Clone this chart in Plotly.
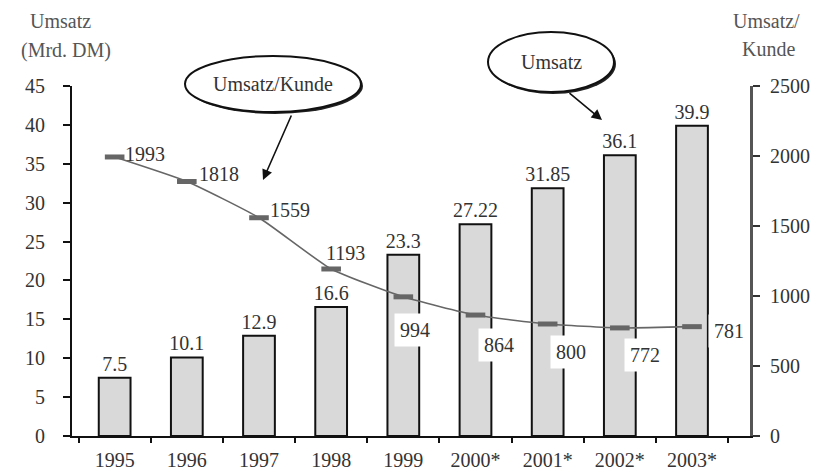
import plotly.graph_objects as go

years = ["1995", "1996", "1997", "1998", "1999", "2000*", "2001*", "2002*", "2003*"]
umsatz = [7.5, 10.1, 12.9, 16.6, 23.3, 27.22, 31.85, 36.1, 39.9]
umsatz_labels = ["7.5", "10.1", "12.9", "16.6", "23.3", "27.22", "31.85", "36.1", "39.9"]
umsatz_kunde = [1993, 1818, 1559, 1193, 994, 864, 800, 772, 781]
left_ticks = [0, 5, 10, 15, 20, 25, 30, 35, 40, 45]
right_ticks = [0, 500, 1000, 1500, 2000, 2500]

# label placement (pixels): xanchor, xshift, yshift, white box
label_pos = [
    ("left", 9, 3, False),
    ("left", 11, 7, False),
    ("left", 10, 8, False),
    ("center", 14, 16, False),
    ("center", 12, -33, True),
    ("center", 24, -30, True),
    ("center", 23, -28, True),
    ("center", 25, -27, True),
    ("left", 16, -4, True),
]

FONT = "Liberation Serif"
# window pixels; the page body adds an 8px margin around the figure
OFF = 8
WIN_W, WIN_H = 820, 472
L, R, T, B = 72, 750, 86, 436
W, H = WIN_W - OFF, WIN_H - OFF

def px(x):
    return (x - OFF) / W

def py(y):
    return 1 - (y - OFF) / H

fig = go.Figure()
fig.add_trace(go.Bar(
    x=years, y=umsatz, width=0.44,
    marker=dict(color="#d9d9d9", line=dict(color="#111111", width=2)),
    text=umsatz_labels, textposition="outside", cliponaxis=False, constraintext="none",
    textfont=dict(family=FONT, size=20, color="#333333"),
    showlegend=False,
))
fig.add_trace(go.Scatter(
    x=years, y=umsatz_kunde, yaxis="y2", mode="lines+markers",
    line=dict(color="#666666", width=1.6, shape="spline", smoothing=0.5),
    marker=dict(symbol="line-ew-open", size=14, line=dict(color="#444444", width=5)),
    showlegend=False, cliponaxis=False,
))

annotations = []
for i, (v, (xa, xs, ys, box)) in enumerate(zip(umsatz_kunde, label_pos)):
    annotations.append(dict(
        x=i, y=v, xref="x", yref="y2", text=str(v), showarrow=False,
        xanchor=xa, yanchor="middle", xshift=xs, yshift=ys,
        font=dict(family=FONT, size=20, color="#333333"),
        bgcolor="white" if box else "rgba(0,0,0,0)", borderpad=5 if box else 0,
    ))

# axis titles (centre in window pixels)
for txt, x, y in [("Umsatz", 60, 21), ("(Mrd. DM)", 66, 51), ("Umsatz/", 766, 21), ("Kunde", 768, 49)]:
    annotations.append(dict(
        x=px(x), y=py(y), xref="paper", yref="paper", text=txt, showarrow=False,
        xanchor="center", yanchor="middle",
        font=dict(family=FONT, size=20, color="#555555"),
    ))

shapes = []
# callout ellipses with shadow
for cx, cy, rx, ry, txt in [(273, 84, 88, 28, "Umsatz/Kunde"), (551, 62, 63, 30, "Umsatz")]:
    shapes.append(dict(type="circle", xref="paper", yref="paper",
                       x0=px(cx - rx + 2), x1=px(cx + rx + 2), y0=py(cy + ry + 2), y1=py(cy - ry + 2),
                       fillcolor="#222222", line=dict(width=0)))
    shapes.append(dict(type="circle", xref="paper", yref="paper",
                       x0=px(cx - rx), x1=px(cx + rx), y0=py(cy + ry), y1=py(cy - ry),
                       fillcolor="white", line=dict(color="#111111", width=2)))
    annotations.append(dict(
        x=px(cx), y=py(cy), xref="paper", yref="paper", text=txt, showarrow=False,
        xanchor="center", yanchor="middle",
        font=dict(family=FONT, size=20, color="#333333"),
    ))

# arrows
for hx, hy, tx, ty in [(263, 180, 292, 114), (602, 120, 568, 92)]:
    annotations.append(dict(
        x=px(hx), y=py(hy), xref="paper", yref="paper", text="", showarrow=True,
        xanchor="center", yanchor="middle",
        ax=tx - hx, ay=ty - hy, arrowhead=2, arrowsize=1.3, arrowwidth=1.6, arrowcolor="#111111",
    ))

fig.update_layout(
    width=W, height=H,
    margin=dict(l=0, r=0, t=0, b=0, pad=0, autoexpand=False),
    plot_bgcolor="white", paper_bgcolor="white",
    font=dict(family=FONT, size=20, color="#333333"),
    xaxis=dict(
        domain=[px(L), px(R)],
        type="category", showline=True, linecolor="#111111", linewidth=2,
        ticks="outside", tickson="boundaries", ticklen=5, tickcolor="#111111", tickwidth=1.5,
        showgrid=False, zeroline=False, ticklabelstandoff=5, tickangle=0, automargin=False,
        tickfont=dict(family=FONT, size=20, color="#333333"),
    ),
    yaxis=dict(
        domain=[py(B), py(T)],
        range=[0, 45], tickvals=left_ticks, showline=True, linecolor="#111111", linewidth=1.8,
        ticks="outside", ticklen=7, tickcolor="#111111", tickwidth=1.5,
        showgrid=False, zeroline=False, ticklabelstandoff=14, automargin=False,
        tickfont=dict(family=FONT, size=20, color="#333333"),
    ),
    yaxis2=dict(
        domain=[py(B), py(T)],
        range=[0, 2500], tickvals=right_ticks, overlaying="y", side="right",
        showline=True, linecolor="#555555", linewidth=3,
        ticks="outside", ticklen=7, tickcolor="#333333", tickwidth=1.5,
        showgrid=False, zeroline=False, ticklabelstandoff=6, automargin=False,
        tickfont=dict(family=FONT, size=20, color="#333333"),
    ),
    annotations=annotations,
    shapes=shapes,
    bargap=0.56,
)

fig.write_html("out.html")
